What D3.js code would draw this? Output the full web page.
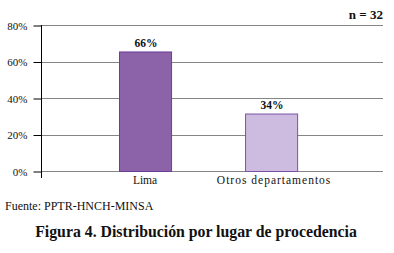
<!DOCTYPE html>
<html>
<head>
<meta charset="utf-8">
<script src="https://cdn.jsdelivr.net/npm/d3@7"></script>
<style>
  body { margin: 0; background: #fff; }
</style>
</head>
<body>
<div id="chart"></div>
<script>
const categories = ["Lima", "Otros departamentos"];
const values = [65.5, 31.5];          // bar heights as drawn
const valueLabels = ["66%", "34%"];   // labels as printed
const yTicks = [0, 20, 40, 60, 80];
const fills = ["#8c62a9", "#cdbbe0"];
const strokes = ["#6b3f98", "#7b52a3"];
const labelSpacing = [0, 1];

(function () {
  const width = 394, height = 253;
  const font = "Liberation Serif, Times New Roman, Times, serif";
  const svg = d3.select("#chart").append("svg")
    .attr("width", width)
    .attr("height", height);

  const x = d3.scaleBand()
    .domain(categories)
    .range([41, 383])
    .paddingInner(0.587)
    .paddingOuter(0.65)
    .align(0.476);

  const y = d3.scaleLinear()
    .domain([0, 80])
    .range([171, 25]);

  // gridlines
  svg.append("g")
    .selectAll("line")
    .data(yTicks)
    .enter().append("line")
    .attr("x1", 41)
    .attr("x2", 383)
    .attr("y1", d => Math.round(y(d)) + 0.5)
    .attr("y2", d => Math.round(y(d)) + 0.5)
    .attr("stroke", "#858585")
    .attr("stroke-width", 1);

  // y axis
  const yAxis = svg.append("g")
    .attr("transform", "translate(41.5,0)")
    .call(d3.axisLeft(y).tickValues(yTicks).tickFormat(d => d + "%").tickSize(8).tickPadding(6));
  yAxis.attr("font-family", null).attr("font-size", null);
  yAxis.select(".domain").remove();
  yAxis.selectAll(".tick line").attr("stroke", "#000").attr("transform", "translate(0,0.5)");
  yAxis.selectAll("text")
    .attr("font-family", font)
    .attr("font-size", 11)
    .attr("dy", "0.38em")
    .attr("fill", "#111");
  svg.append("line")
    .attr("x1", 41.5).attr("x2", 41.5)
    .attr("y1", 25).attr("y2", 178)
    .attr("stroke", "#000");

  // bars
  svg.selectAll("rect.bar")
    .data(categories)
    .enter().append("rect")
    .attr("class", "bar")
    .attr("x", d => x(d) + 0.5)
    .attr("y", (d, i) => y(values[i]) + 0.5)
    .attr("width", x.bandwidth())
    .attr("height", (d, i) => y(0) - y(values[i]))
    .attr("fill", (d, i) => fills[i])
    .attr("stroke", (d, i) => strokes[i])
    .attr("stroke-width", 1);

  // value labels
  svg.selectAll("text.val")
    .data(categories)
    .enter().append("text")
    .attr("class", "val")
    .attr("x", d => x(d) + x.bandwidth() / 2 + 1)
    .attr("y", (d, i) => y(values[i]) - 4.5)
    .attr("text-anchor", "middle")
    .attr("font-family", font)
    .attr("font-size", 11.5)
    .attr("font-weight", "bold")
    .attr("fill", "#111")
    .text((d, i) => valueLabels[i]);

  // category labels
  svg.selectAll("text.cat")
    .data(categories)
    .enter().append("text")
    .attr("class", "cat")
    .attr("x", (d, i) => x(d) + x.bandwidth() / 2 + labelSpacing[i] * 3)
    .attr("y", 184)
    .attr("text-anchor", "middle")
    .attr("font-family", font)
    .attr("font-size", 11.5)
    .attr("letter-spacing", (d, i) => labelSpacing[i])
    .attr("fill", "#111")
    .text(d => d);

  svg.append("text")
    .attr("x", 383)
    .attr("y", 19)
    .attr("text-anchor", "end")
    .attr("font-family", font)
    .attr("font-size", 13)
    .attr("font-weight", "bold")
    .attr("fill", "#111")
    .text("n = 32");

  svg.append("text")
    .attr("x", 5)
    .attr("y", 210)
    .attr("font-family", font)
    .attr("font-size", 12)
    .attr("fill", "#111")
    .text("Fuente: PPTR-HNCH-MINSA");

  svg.append("text")
    .attr("x", 196)
    .attr("y", 237)
    .attr("text-anchor", "middle")
    .attr("font-family", font)
    .attr("font-size", 15.8)
    .attr("font-weight", "bold")
    .attr("fill", "#111")
    .text("Figura 4. Distribución por lugar de procedencia");
})();
</script>
</body>
</html>
